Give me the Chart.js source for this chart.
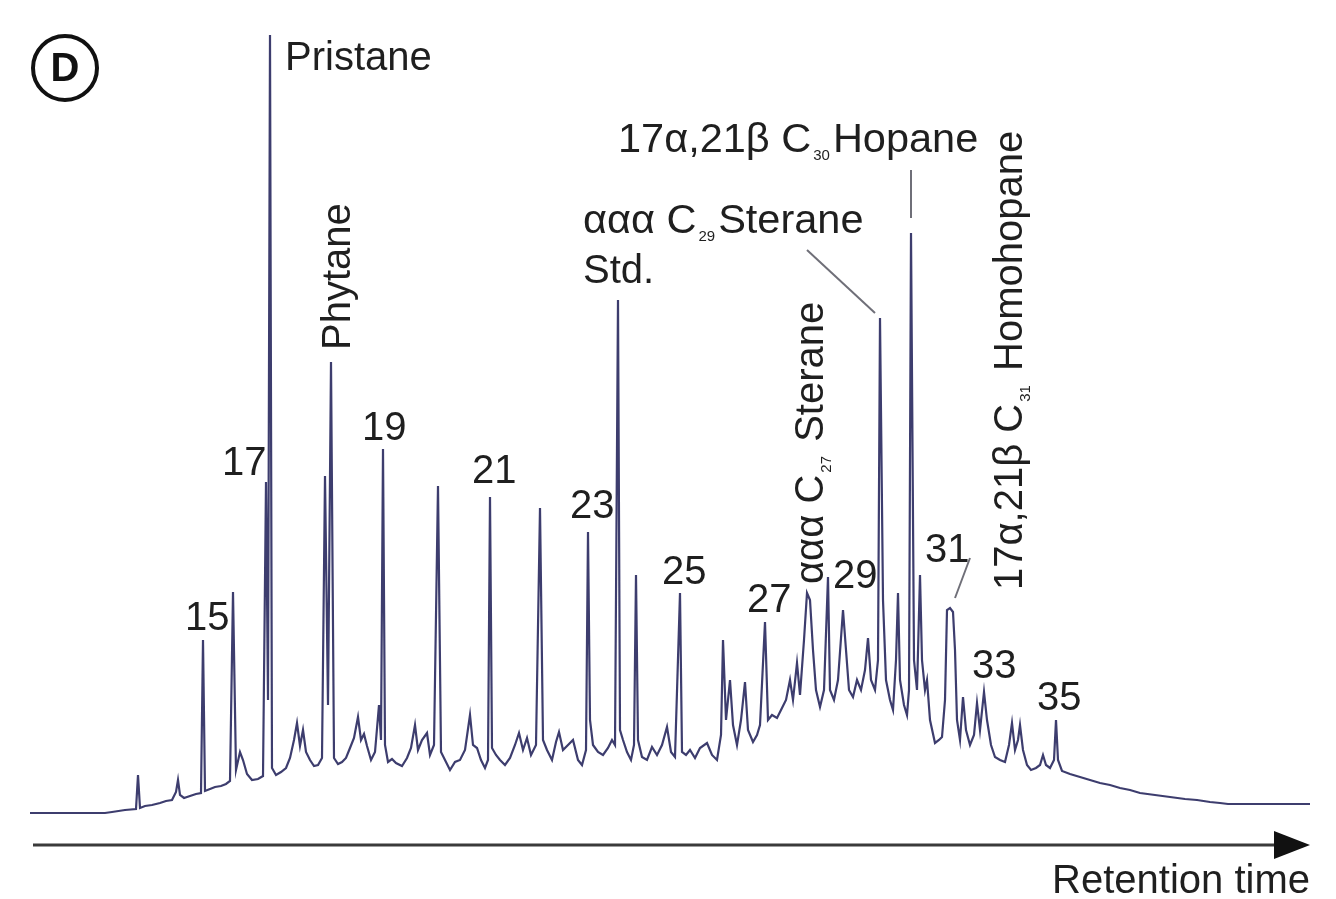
<!DOCTYPE html>
<html>
<head>
<meta charset="utf-8">
<script src="https://cdn.jsdelivr.net/npm/chart.js@4.4.1/dist/chart.umd.min.js"></script>
<style>
    body { margin: 0; background: #ffffff; }
    #wrap { width: 1336px; height: 899px; }
</style>
</head>
<body>
<div id="wrap"><canvas id="gcChart" width="1336" height="899"></canvas></div>
<script>
// retention time (scan units) and detector signal of the trace
const traceTime = [
    30, 105, 112, 125, 136, 138, 140, 145, 152, 160, 166, 172, 176, 178, 180, 184, 190, 196, 201, 203,
    205, 210, 215, 221, 226, 230, 233, 236, 240, 243, 247, 252, 258, 263, 266, 268, 270, 272, 276, 281,
    286, 290, 294, 297, 300, 303, 306, 310, 314, 318, 322, 325, 328, 331, 334, 338, 342, 346, 350, 354,
    358, 361, 364, 367, 371, 375, 379, 381, 383, 385, 388, 392, 396, 402, 407, 411, 415, 418, 422, 427,
    430, 434, 438, 441, 445, 450, 455, 460, 465, 470, 473, 477, 481, 485, 488, 490, 492, 496, 500, 505,
    510, 515, 519, 523, 527, 531, 536, 540, 543, 547, 552, 556, 559, 563, 568, 573, 578, 582, 586, 588,
    590, 593, 598, 603, 608, 612, 615, 618, 620, 623, 627, 631, 634, 636, 638, 642, 647, 652, 657, 662,
    667, 671, 675, 680, 682, 686, 690, 695, 700, 707, 712, 717, 721, 723, 726, 730, 733, 737, 741, 745,
    748, 753, 757, 760, 765, 768, 772, 777, 782, 786, 790, 793, 797, 800, 804, 807, 810, 813, 816, 820,
    824, 828, 830, 834, 838, 843, 846, 849, 853, 857, 861, 865, 868, 871, 875, 878, 880, 883, 886, 890,
    893, 896, 898, 900, 904, 907, 909, 911, 914, 917, 920, 922, 925, 927, 930, 935, 939, 942, 945, 947,
    950, 953, 955, 957, 960, 963, 966, 970, 974, 977, 980, 984, 987, 991, 995, 1000, 1005, 1009, 1012, 1015,
    1018, 1020, 1023, 1027, 1031, 1036, 1040, 1043, 1046, 1050, 1054, 1056, 1058, 1062, 1070, 1080, 1090, 1100, 1110, 1120,
    1130, 1140, 1155, 1170, 1185, 1197, 1210, 1220, 1228, 1240, 1310
];
const traceSignal = [
    0, 0, 1, 3, 4, 38, 5, 7, 8, 10, 12, 13, 21, 33, 18, 15, 17, 19, 20, 173,
    22, 24, 26, 27, 29, 32, 221, 43, 61, 53, 39, 33, 34, 37, 331, 113, 778, 45, 38, 41,
    45, 55, 73, 90, 67, 83, 61, 53, 47, 48, 55, 337, 108, 451, 55, 49, 51, 55, 65, 75,
    96, 73, 79, 67, 53, 61, 108, 73, 364, 68, 51, 54, 50, 47, 55, 65, 88, 63, 73, 80,
    58, 68, 327, 61, 53, 43, 51, 53, 63, 98, 68, 65, 53, 45, 53, 316, 65, 58, 53, 48,
    55, 68, 80, 63, 75, 58, 68, 305, 73, 63, 53, 71, 81, 63, 68, 73, 53, 48, 63, 281,
    93, 68, 61, 58, 65, 73, 68, 513, 83, 73, 61, 53, 68, 238, 73, 56, 53, 66, 58, 68,
    86, 61, 56, 220, 61, 58, 63, 55, 65, 70, 58, 53, 78, 173, 93, 133, 88, 68, 93, 131,
    83, 71, 78, 88, 191, 93, 98, 95, 105, 113, 133, 113, 150, 118, 173, 220, 213, 163, 123, 106,
    123, 236, 123, 113, 133, 203, 163, 123, 116, 133, 123, 143, 175, 133, 123, 153, 495, 213, 133, 113,
    103, 153, 220, 133, 108, 98, 123, 580, 153, 123, 238, 153, 123, 133, 93, 70, 73, 76, 113, 203,
    205, 201, 163, 93, 73, 116, 83, 68, 78, 110, 83, 121, 93, 68, 56, 53, 51, 68, 90, 63,
    73, 88, 63, 48, 43, 45, 48, 58, 48, 45, 53, 93, 53, 42, 39, 36, 33, 30, 28, 25,
    23, 20, 18, 16, 14, 13, 11, 10, 9, 9, 9
];

// n-alkane carbon numbers written above their peaks
const carbonNumbers = ["15", "17", "19", "21", "23", "25", "27", "29", "31", "33", "35"];
const carbonLabelTime = [185, 222, 362, 472, 570, 662, 747, 833, 925, 972, 1037];
const carbonLabelLevel = [183, 338, 373, 330, 295, 229, 201, 225, 251, 135, 103];

const FONT = '"Liberation Sans", Arial, sans-serif';
const TEXT_COLOR = "#1f1f1f";
const LINE_COLOR = "#3d3d6e";

// compound names: text pieces (second item true = subscript), anchor, rotation, font size
const compoundLabels = [
    { parts: [["Pristane", false]], x: 285, y: 743, rotate: false, size: 40 },
    { parts: [["Phytane", false]], x: 350, y: 463, rotate: true, size: 40 },
    { parts: [["17α,21β C", false], ["30", true], ["Hopane", false]], x: 618, y: 661, rotate: false, size: 41.5 },
    { parts: [["ααα C", false], ["29", true], ["Sterane", false]], x: 583, y: 580, rotate: false, size: 41.5 },
    { parts: [["Std.", false]], x: 583, y: 530, rotate: false, size: 40 },
    { parts: [["ααα C", false], ["27", true], [" Sterane", false]], x: 823, y: 229, rotate: true, size: 40 },
    { parts: [["17α,21β C", false], ["31", true], [" Homohopane", false]], x: 1022, y: 223, rotate: true, size: 40 }
];

// leader lines from names to their peaks
const leaderLines = [
    [807, 563, 875, 500],
    [911, 643, 911, 595],
    [970, 255, 955, 215]
];

function drawParts(ctx, parts, size) {
    let cx = 0;
    parts.forEach(([txt, sub]) => {
        if (sub) {
            ctx.font = "15px " + FONT;
            ctx.fillText(txt, cx + 2, 8);
            cx += ctx.measureText(txt).width + 5;
        } else {
            ctx.font = size + "px " + FONT;
            ctx.fillText(txt, cx, 0);
            cx += ctx.measureText(txt).width;
        }
    });
}

const annotationPlugin = {
    id: "gcAnnotations",
    afterDatasetsDraw(chart) {
        const ctx = chart.ctx;
        const xs = chart.scales.x;
        const ys = chart.scales.y;
        ctx.save();
        ctx.fillStyle = TEXT_COLOR;
        ctx.textBaseline = "alphabetic";
        ctx.textAlign = "left";

        carbonNumbers.forEach((n, i) => {
            ctx.font = "40px " + FONT;
            ctx.fillText(n, xs.getPixelForValue(carbonLabelTime[i]), ys.getPixelForValue(carbonLabelLevel[i]));
        });

        compoundLabels.forEach(lab => {
            ctx.save();
            ctx.translate(xs.getPixelForValue(lab.x), ys.getPixelForValue(lab.y));
            if (lab.rotate) ctx.rotate(-Math.PI / 2);
            drawParts(ctx, lab.parts, lab.size);
            ctx.restore();
        });

        ctx.strokeStyle = "#6f6f78";
        ctx.lineWidth = 2;
        leaderLines.forEach(l => {
            ctx.beginPath();
            ctx.moveTo(xs.getPixelForValue(l[0]), ys.getPixelForValue(l[1]));
            ctx.lineTo(xs.getPixelForValue(l[2]), ys.getPixelForValue(l[3]));
            ctx.stroke();
        });

        // retention time axis arrow
        const ay = ys.getPixelForValue(-32);
        const ax0 = xs.getPixelForValue(33);
        const ax1 = xs.getPixelForValue(1310);
        ctx.strokeStyle = "#3a3a3a";
        ctx.lineWidth = 3;
        ctx.beginPath();
        ctx.moveTo(ax0, ay);
        ctx.lineTo(ax1 - 30, ay);
        ctx.stroke();
        ctx.fillStyle = "#111111";
        ctx.beginPath();
        ctx.moveTo(ax1, ay);
        ctx.lineTo(ax1 - 36, ay - 14);
        ctx.lineTo(ax1 - 36, ay + 14);
        ctx.closePath();
        ctx.fill();

        ctx.fillStyle = TEXT_COLOR;
        ctx.font = "40px " + FONT;
        ctx.textAlign = "right";
        ctx.fillText("Retention time", ax1, ys.getPixelForValue(-80));

        // panel letter
        ctx.strokeStyle = "#111111";
        ctx.lineWidth = 4;
        ctx.beginPath();
        ctx.arc(65, 68, 32, 0, Math.PI * 2);
        ctx.stroke();
        ctx.fillStyle = "#111111";
        ctx.font = "bold 40px " + FONT;
        ctx.textAlign = "center";
        ctx.textBaseline = "middle";
        ctx.fillText("D", 65, 70);
        ctx.restore();
    }
};

const points = traceTime.map((t, i) => ({ x: t, y: traceSignal[i] }));

new Chart(document.getElementById("gcChart").getContext("2d"), {
    type: "scatter",
    data: {
        datasets: [{
            label: "TIC",
            data: points,
            showLine: true,
            borderColor: LINE_COLOR,
            borderWidth: 2.2,
            pointRadius: 0,
            tension: 0,
            fill: false,
            clip: false
        }]
    },
    options: {
        responsive: false,
        animation: false,
        layout: { padding: 0 },
        plugins: {
            legend: { display: false },
            tooltip: { enabled: false }
        },
        scales: {
            x: { type: "linear", min: 0, max: 1336, display: false },
            y: { type: "linear", min: -86, max: 813, display: false }
        }
    },
    plugins: [annotationPlugin]
});
</script>
</body>
</html>
